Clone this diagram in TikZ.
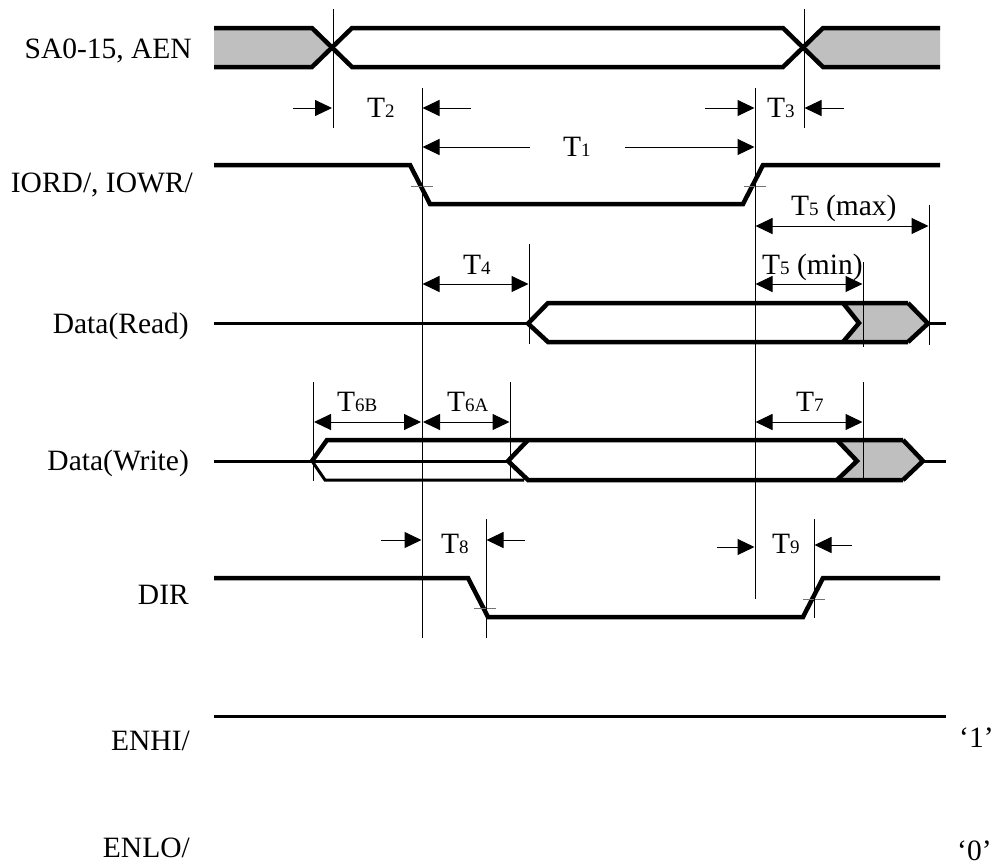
\documentclass[tikz,border=0pt]{standalone}
\usepackage{fontspec}
\setmainfont{Liberation Serif}
\usetikzlibrary{arrows.meta}
\newcommand\sigfont{\fontsize{29.5}{31}\selectfont}
\newcommand\tsub[1]{{\fontsize{19}{20}\selectfont #1}}
\tikzset{
  sig/.style={line width=4.5pt,line join=miter,line cap=butt},
  sigthin/.style={line width=3pt,line join=miter},
  shade/.style={fill=black!25,draw=none},
  guide/.style={line width=1pt,black},
  tick/.style={line width=1pt,black!55},
  tip/.style={Triangle[length=17pt,width=16pt,inset=0pt]},
  dimm/.style={line width=1pt,black,-{Triangle[length=17pt,width=16pt]}},
  dimb/.style={line width=1pt,black,{Triangle[length=17pt,width=16pt]}-{Triangle[length=17pt,width=16pt]}},
  lbl/.style={font=\sigfont,inner sep=0pt,anchor=base east},
  tlbl/.style={font=\sigfont,inner sep=0pt,anchor=base west},
}
\begin{document}
\begin{tikzpicture}[x=1pt,y=-1pt]
\useasboundingbox (0,0) rectangle (993,865);
% guides: end points
\foreach \n/\x/\a/\b in {ga/333/9/128,gb/804/9/128,gc/422/88/638,gd/755/88/599,ge/929/205/345,gf/529/244/344,gg/863/262/347,gh/313.5/382/481,gi/510/382/480,gj/863/382/480,gk/486/519/638,gl/814/519/618}{
  \coordinate (\n t) at (\x,\a);
  \coordinate (\n b) at (\x,\b);
}
% grey regions
\fill[shade] (214,28) -- (312,28) -- (333,47.5) -- (312,67) -- (214,67) -- cycle;
\fill[shade] (940,28) -- (823,28) -- (804,47.5) -- (823,67) -- (940,67) -- cycle;
\fill[shade] (843,303) -- (859,323) -- (843,342) -- (908,342) -- (928,323) -- (908,303) -- cycle;
\fill[shade] (837,440) -- (857,461) -- (837,480) -- (903,480) -- (923,461) -- (903,440) -- cycle;
% SA0-15, AEN
\draw[sig] (214,28) -- (312,28) -- (352,67) -- (783,67) -- (823,28) -- (940,28);
\draw[sig] (214,67) -- (312,67) -- (352,28) -- (783,28) -- (823,67) -- (940,67);
% IORD/, IOWR/
\draw[sig] (214,165) -- (410,165) -- (430,204) -- (743,204) -- (763,165) -- (940,165);
\draw[tick] (411,186.5) -- (433,186.5);
\draw[tick] (744,186.5) -- (766,186.5);
% Data(Read)
\draw[sigthin] (214,323.5) -- (528,323.5);
\draw[sig] (908,303) -- (548,303) -- (528,323.5) -- (548,342) -- (908,342);
\draw[sig] (908,303) -- (928,323.5) -- (908,342);
\draw[sig] (843,303) -- (859,323) -- (843,342);
\draw[sigthin] (928,323.5) -- (946,323.5);
% Data(Write)
\draw[sigthin] (214,461) -- (508,461);
\draw[sig] (903,440) -- (327,440) -- (312,461);
\draw[sigthin] (312,461) -- (325,480) -- (524,480);
\draw[sig] (528,440) -- (508,461) -- (528,480) -- (903,480);
\draw[sig] (903,440) -- (923,461) -- (903,480);
\draw[sig] (837,440) -- (857,461) -- (837,480);
\draw[sigthin] (923,461) -- (946,461);
% DIR
\draw[sig] (214,578) -- (468,578) -- (488,617) -- (803,617) -- (823,578) -- (940,578);
\draw[tick] (474,608) -- (496,608);
\draw[tick] (803,599) -- (825,599);
% ENHI/
\draw[sigthin] (214,716) -- (946,716);
% guides
\foreach \n in {ga,gb,gc,gd,ge,gf,gg,gh,gi,gj,gk,gl}{\draw[guide] (\n t) -- (\n b);}
% dimension arrows
\foreach \n/\xa/\xb/\y in {
  aa/293/332/108,
  ab/471/422.5/108,
  ac/705/754.5/108,
  ad/844/804.5/108,
  ae/530/422.5/147,
  af/625/754.5/147,
  ag/381/421.5/540,
  ah/525/486.5/540,
  ai/717/754.5/547,
  aj/852/814.5/545}{
  \coordinate (\n s) at (\xa,\y);
  \coordinate (\n e) at (\xb,\y);
  \draw[dimm] (\n s) -- (\n e);
}
\foreach \n/\xa/\xb/\y in {
  ba/755.5/928.5/226,
  bb/422.5/528.5/284,
  bc/755.5/862.5/284,
  bd/314/421/422,
  be/423/509.5/422,
  bf/755.5/862.5/422}{
  \coordinate (\n s) at (\xa,\y);
  \coordinate (\n e) at (\xb,\y);
  \draw[dimb] (\n s) -- (\n e);
}
% signal names
\node[lbl] (lsa) at (192,58) {SA0-15, AEN};
\node[lbl] (lio) at (193,192) {IORD/, IOWR/};
\node[lbl] (ldr) at (189,333) {Data(Read)};
\node[lbl] (ldw) at (189,470) {Data(Write)};
\node[lbl] (ldi) at (189,604) {DIR};
\node[lbl] (leh) at (190,750) {ENHI/};
\node[lbl] (lel) at (190,857) {ENLO/};
\node[tlbl] (vone) at (959,747) {‘1’};
\node[tlbl] (vzero) at (957,860) {‘0’};
% timing labels
\node[tlbl] (t1) at (563,156) {T\tsub{1}};
\node[tlbl] (t2) at (367,117) {T\tsub{2}};
\node[tlbl] (t3) at (767,117) {T\tsub{3}};
\node[tlbl] (t4) at (463,274) {T\tsub{4}};
\node[tlbl] (t5x) at (791,215) {T\tsub{5} (max)};
\node[tlbl] (t5n) at (762,274) {T\tsub{5} (min)};
\node[tlbl] (t6b) at (337,411) {T\tsub{6B}};
\node[tlbl] (t6a) at (447,411) {T\tsub{6A}};
\node[tlbl] (t7) at (796,411) {T\tsub{7}};
\node[tlbl] (t8) at (441,553) {T\tsub{8}};
\node[tlbl] (t9) at (772,553) {T\tsub{9}};
\end{tikzpicture}
\end{document}
